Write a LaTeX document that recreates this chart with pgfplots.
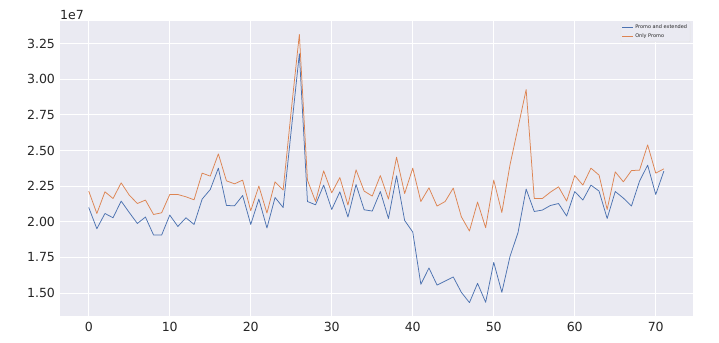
\documentclass[border=0pt]{standalone}
\usepackage{fontspec}
\setmainfont{DejaVu Sans}
\usepackage{pgfplots}
\usepackage{pgfplotstable}
\pgfplotsset{compat=1.18}
\definecolor{sbbg}{HTML}{EAEAF2}
\definecolor{sbblue}{HTML}{4C72B0}
\definecolor{sborange}{HTML}{DD8452}
\definecolor{sbtext}{HTML}{262626}

% values in units of 1e7
\pgfplotstableread{
x y
0 2.100
1 1.951
2 2.058
3 2.028
4 2.145
5 2.065
6 1.988
7 2.033
8 1.907
9 1.907
10 2.047
11 1.967
12 2.028
13 1.981
14 2.159
15 2.226
16 2.376
17 2.114
18 2.112
19 2.184
20 1.981
21 2.159
22 1.956
23 2.170
24 2.100
25 2.642
26 3.179
27 2.142
28 2.119
29 2.257
30 2.086
31 2.210
32 2.033
33 2.261
34 2.084
35 2.075
36 2.212
37 2.023
38 2.322
39 2.009
40 1.928
41 1.561
42 1.676
43 1.556
44 1.584
45 1.613
46 1.505
47 1.433
48 1.568
49 1.435
50 1.715
51 1.505
52 1.755
53 1.925
54 2.229
55 2.072
56 2.082
57 2.114
58 2.128
59 2.040
60 2.212
61 2.152
62 2.257
63 2.215
64 2.023
65 2.212
66 2.166
67 2.110
68 2.285
69 2.397
70 2.191
71 2.355
}\promoext

\pgfplotstableread{
x y
0 2.215
1 2.058
2 2.210
3 2.163
4 2.273
5 2.187
6 2.128
7 2.152
8 2.051
9 2.063
10 2.191
11 2.191
12 2.175
13 2.154
14 2.341
15 2.320
16 2.476
17 2.287
18 2.266
19 2.292
20 2.077
21 2.250
22 2.061
23 2.280
24 2.222
25 2.780
26 3.314
27 2.292
28 2.142
29 2.357
30 2.203
31 2.310
32 2.117
33 2.364
34 2.215
35 2.180
36 2.324
37 2.159
38 2.453
39 2.198
40 2.376
41 2.142
42 2.238
43 2.110
44 2.142
45 2.236
46 2.035
47 1.935
48 2.138
49 1.958
50 2.292
51 2.065
52 2.397
53 2.661
54 2.927
55 2.163
56 2.163
57 2.208
58 2.245
59 2.145
60 2.324
61 2.257
62 2.376
63 2.327
64 2.086
65 2.350
66 2.280
67 2.359
68 2.362
69 2.539
70 2.341
71 2.371
}\onlypromo

\begin{document}
\begin{tikzpicture}
\begin{axis}[
  at={(0,0)}, anchor=south west,
  scale only axis, width=632.6bp, height=295bp,
  xmin=-3.55, xmax=74.55, ymin=1.339, ymax=3.408,
  axis background/.style={fill=sbbg},
  axis line style={draw=none},
  major tick length=0pt,
  grid=major,
  major grid style={white, line width=0.9bp},
  xtick={0,10,20,30,40,50,60,70},
  ytick={1.5,1.75,2.0,2.25,2.5,2.75,3.0,3.25},
  yticklabel style={xshift=-1.5bp, /pgf/number format/fixed, /pgf/number format/fixed zerofill, /pgf/number format/precision=2},
  /pgf/number format/assume math mode=true,
  tick label style={font=\fontsize{12.6}{15}\selectfont, text=sbtext},
  xticklabel style={yshift=-3bp},
  legend style={at={(rel axis cs:0.9964,0.9976)}, anchor=north east,
    fill=sbbg, draw=white!80!gray, line width=0.5bp, rounded corners=1bp,
    font=\fontsize{5}{6}\selectfont, text=sbtext, inner sep=1bp,
    row sep=-0.5bp},
  legend cell align=left,
  legend image code/.code={\draw[#1] (0bp,0bp) -- (10.7bp,0bp);},
  clip mode=individual,
]
\addplot[sbblue, line width=0.75bp, line join=round, no markers] table[x=x,y=y] {\promoext};
\addlegendentry{Promo and extended}
\addplot[sborange, line width=0.75bp, line join=round, no markers] table[x=x,y=y] {\onlypromo};
\addlegendentry{Only Promo}
\end{axis}
\node[anchor=base west, inner sep=0pt, font=\fontsize{12.6}{15}\selectfont, text=sbtext] at (0bp,296.5bp) {1e7};
\pgfresetboundingbox
\path[use as bounding box] (-60bp,-27bp) rectangle (659bp,316bp);
\end{tikzpicture}
\end{document}
